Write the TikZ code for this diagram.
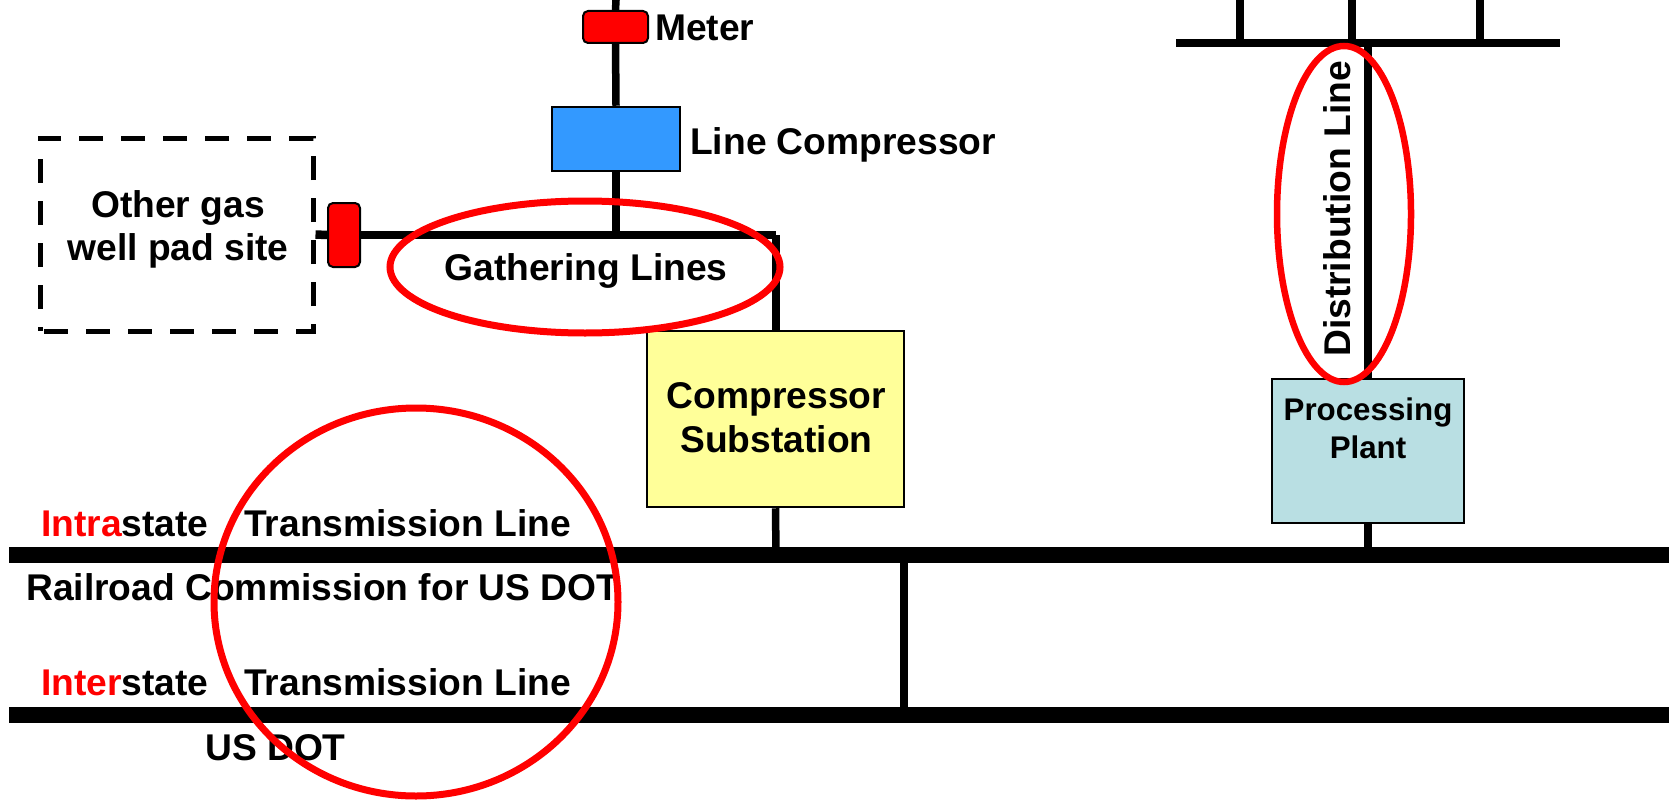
\documentclass[tikz,border=0pt]{standalone}
\usepackage{fontspec}
\setmainfont{Liberation Sans}
\definecolor{lcblue}{RGB}{51,153,255}
\definecolor{subyellow}{RGB}{255,255,153}
\definecolor{plantblue}{RGB}{185,223,227}
\begin{document}
\begin{tikzpicture}[x=1pt,y=-1pt,
  pipe/.style={line width=7.5pt,line join=miter},
  mainpipe/.style={line width=16pt},
  box/.style={draw=black,line width=2.5pt,inner sep=0pt},
  meterbox/.style={draw=black,line width=2pt,fill=red,rounded corners=5pt,inner sep=0pt},
  hl/.style={draw=red,line width=7pt},
  lbl/.style={font=\bfseries\fontsize{37.2}{44}\selectfont,inner sep=0pt,anchor=base},
  smalllbl/.style={font=\bfseries\fontsize{31.3}{37}\selectfont,inner sep=0pt,anchor=base}]
\fill[white] (0,0) rectangle (1669,800);
\useasboundingbox (0,0) rectangle (1669,800);

% boxes
\node[meterbox,minimum width=65pt,minimum height=32pt] (meterT) at (615.5,27) {};
\node[box,fill=lcblue,minimum width=128pt,minimum height=64pt] (lcomp) at (616,139) {};
\node[draw=black,line width=5pt,dash pattern=on 24pt off 18pt,dash phase=-4pt,minimum width=273pt,minimum height=193pt,inner sep=0pt] (other) at (176.5,234.5) {};
\node[meterbox,minimum width=32pt,minimum height=64pt] (meterL) at (344,235) {};
\node[box,fill=subyellow,minimum width=257pt,minimum height=176pt] (subst) at (775.5,419) {};
\node[box,fill=plantblue,minimum width=192pt,minimum height=144pt] (plant) at (1368,451) {};

% coordinates
\coordinate (mTop) at (616,0);
\coordinate (gT) at (616,235);
\coordinate (gC) at (776,235);
\coordinate (subJ) at (776,555);
\coordinate (intraS) at (9,555);
\coordinate (intraE) at (1675,555);
\coordinate (interS) at (9,715);
\coordinate (interE) at (1675,715);
\coordinate (linkT) at (904,555);
\coordinate (linkB) at (904,715);
\coordinate (plantJ) at (1368,555);
\coordinate (distJ) at (1368,43);
\coordinate (topL) at (1176,43);
\coordinate (topR) at (1560,43);
\coordinate (s1t) at (1240,0); \coordinate (s1b) at (1240,43);
\coordinate (s2t) at (1352,0); \coordinate (s2b) at (1352,43);
\coordinate (s3t) at (1480,0); \coordinate (s3b) at (1480,43);

% pipes
\draw[pipe] (mTop) -- (meterT.north);
\draw[pipe] (meterT.south) -- (lcomp.north);
\draw[pipe] (lcomp.south) -- (gT);
\draw[pipe,line width=8.5pt] (other.east) -- (meterL.west);
\draw[pipe,line width=8.5pt] (meterL.east) -- (gC);
\draw[pipe] (gC) -- (gC |- subst.north);
\draw[pipe] (subst.south) -- (subJ);
\draw[mainpipe] (intraS) -- (intraE);
\draw[mainpipe] (interS) -- (interE);
\draw[pipe,line width=8pt] (linkT) -- (linkB);
\draw[pipe] (plant.south) -- (plantJ);
\draw[pipe,line width=8pt] (plant.north) -- (distJ);
\draw[pipe,line width=8pt] (topL) -- (topR);
\draw[pipe] (s1t) -- (s1b);
\draw[pipe] (s2t) -- (s2b);
\draw[pipe] (s3t) -- (s3b);

% labels
\node[lbl,anchor=base west] (tMeter) at (655,41) {Meter};
\node[lbl,anchor=base west] (tLC) at (690,154) {Line Compressor};
\node[lbl] (tOther1) at (178,217) {Other gas};
\node[lbl] (tOther2) at (178,260) {well pad site};
\node[lbl] (tGath) at (586,280) {Gathering Lines};
\node[lbl] (tSub1) at (776.5,408) {Compressor};
\node[lbl] (tSub2) at (776.5,452) {Substation};
\node[smalllbl] (tPl1) at (1368,420) {Processing};
\node[smalllbl] (tPl2) at (1368,458) {Plant};
\node[lbl,rotate=90] (tDist) at (1350,209) {Distribution Line};
\node[lbl,anchor=base west] (tIntra) at (41,536) {\textcolor{red}{Intra}state};
\node[lbl,anchor=base west] (tTrans1) at (244,536) {Transmission Line};
\node[lbl,anchor=base west] (tRRC) at (26,600) {Railroad Commission for US DOT};
\node[lbl,anchor=base west] (tInter) at (41,695) {\textcolor{red}{Inter}state};
\node[lbl,anchor=base west] (tTrans2) at (244,695) {Transmission Line};
\node[lbl,anchor=base west] (tUSDOT) at (205,760) {US DOT};

% highlights
\draw[hl] (585,267) ellipse [x radius=195, y radius=66];
\draw[hl,line width=6.5pt] (1344,214) ellipse [x radius=67, y radius=168];
\draw[hl] (416,602) ellipse [x radius=202, y radius=194];
\end{tikzpicture}
\end{document}
